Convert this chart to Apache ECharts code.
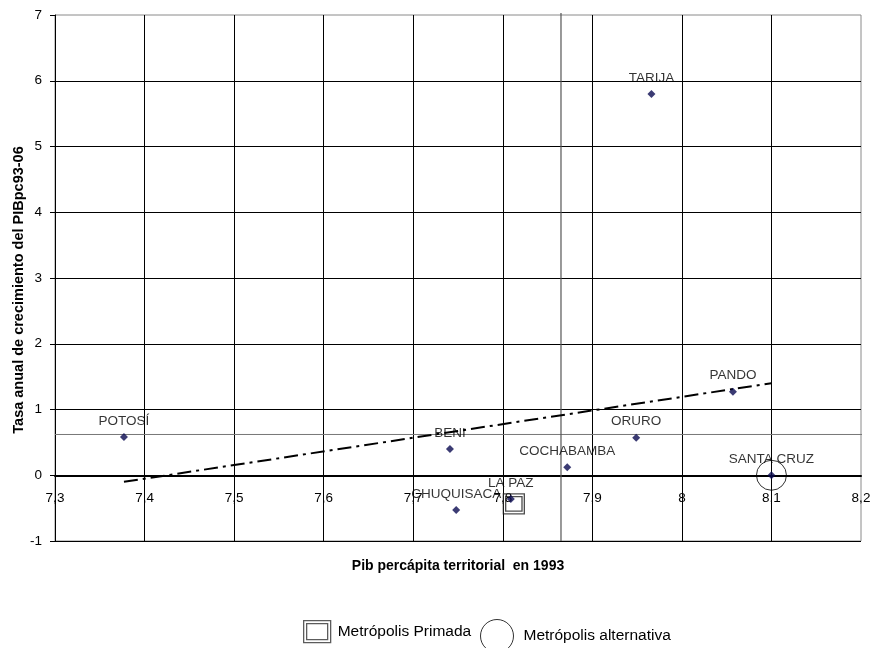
<!DOCTYPE html>
<html>
<head>
<meta charset="utf-8">
<script src="https://cdn.jsdelivr.net/npm/echarts@6/dist/echarts.min.js"></script>
<style>html,body{margin:0;padding:0;background:#fff;}#c{width:872px;height:648px;}</style>
</head>
<body>
<div id="c"></div>
<script>
// Data
const regions = ['POTOSÍ','BENI','CHUQUISACA','LA PAZ','COCHABAMBA','ORURO','PANDO','SANTA CRUZ','TARIJA'];
const pibpc93 = [7.377, 7.741, 7.748, 7.809, 7.872, 7.949, 8.057, 8.100, 7.966];
const growth  = [0.58, 0.40, -0.53, -0.36, 0.12, 0.57, 1.27, 0.00, 5.80];
const primada = ['LA PAZ'];
const alternativa = ['SANTA CRUZ'];
const trendX = [7.377, 8.100];
const trendY = [-0.10, 1.40];
const refX = 7.865;
const refY = 0.62;
const xMin = 7.3, xMax = 8.2, xStep = 0.1;
const yMin = -1, yMax = 7, yStep = 1;
const xTitle = 'Pib percápita territorial  en 1993';
const yTitle = 'Tasa anual de crecimiento del PIBpc93-06';

const pts = regions.map((r,i)=>({name:r, value:[pibpc93[i], growth[i]]}));
const pick = names => pts.filter(p=>names.includes(p.name)).map(p=>({name:p.name, value:p.value}));
const font = 'Liberation Sans, Arial, sans-serif';
const dblSquare = 'path://M0,0H27V22H0Z M3,3H24V19H3Z';

const gridTop = 15, gridBottom = 107, H = 648;
const plotH = H - gridTop - gridBottom;
const zeroOffset = -plotH * (0 - yMin) / (yMax - yMin); // put x axis at y = 0

const chart = echarts.init(document.getElementById('c'), null, {renderer:'canvas'});
chart.setOption({
  animation:false,
  backgroundColor:'#fff',
  textStyle:{fontFamily:font},
  grid:{left:55, right:11, top:gridTop, bottom:gridBottom, containLabel:false, outerBoundsMode:'none',
        show:true, borderColor:'#8a8a8a', borderWidth:1},
  xAxis:{
    type:'value', min:xMin, max:xMax, interval:xStep,
    name:xTitle, nameLocation:'middle', nameGap:84, nameMoveOverlap:false,
    nameTextStyle:{fontWeight:'bold', fontSize:14, color:'#000', fontFamily:font},
    axisLine:{onZero:false, lineStyle:{color:'#000', width:2}},
    offset:zeroOffset,
    axisTick:{show:false},
    axisLabel:{margin:16, fontSize:13.5, color:'#000', fontFamily:font,
      formatter:v=>String(Math.round(v*10)/10).replace('.',',')},
    splitLine:{show:true, showMinLine:false, showMaxLine:false, lineStyle:{color:'#000', width:1}}
  },
  yAxis:{
    type:'value', min:yMin, max:yMax, interval:yStep,
    name:yTitle, nameLocation:'middle', nameGap:29, nameRotate:90, nameMoveOverlap:false,
    nameTextStyle:{fontWeight:'bold', fontSize:14.5, color:'#000', fontFamily:font, padding:[0,24,0,0]},
    axisLine:{show:true, onZero:false, lineStyle:{color:'#000', width:1}},
    axisTick:{show:true, length:5, lineStyle:{color:'#000'}},
    axisLabel:{margin:13, fontSize:13.5, color:'#000', fontFamily:font},
    splitLine:{show:true, showMinLine:true, showMaxLine:false, lineStyle:{color:'#000', width:1}}
  },
  legend:[
    {data:[{name:'Metrópolis Primada', icon:dblSquare, itemStyle:{color:'transparent', borderColor:'#333', borderWidth:1.3}}],
     left:298, top:615, itemWidth:27, itemHeight:22, itemGap:8,
     textStyle:{fontSize:15.5, color:'#000', fontFamily:font, padding:[0,0,0,2]}},
    {data:[{name:'Metrópolis alternativa', icon:'circle', itemStyle:{color:'transparent', borderColor:'#000', borderWidth:1}}],
     left:475, top:614, itemWidth:33, itemHeight:33, itemGap:8,
     textStyle:{fontSize:15.5, color:'#000', fontFamily:font, padding:[0,0,0,5]}}
  ],
  series:[
    {type:'line', name:'refY', silent:true, symbol:'none', clip:false,
     data:[[xMin, refY],[xMax+0.007, refY]], lineStyle:{color:'#777', width:1}, z:1},
    {type:'line', name:'refX', silent:true, symbol:'none', clip:false,
     data:[[refX, yMin],[refX, yMax+0.03]], lineStyle:{color:'#555', width:1.2}, z:1},
    {type:'line', name:'trend', silent:true, symbol:'none',
     data:trendX.map((x,i)=>[x, trendY[i]]), lineStyle:{color:'#000', width:2, type:[14,5,3,5]}, z:2},
    {type:'scatter', name:'Metrópolis Primada', data:pick(primada), symbol:dblSquare, symbolSize:[21,20], symbolOffset:[3,5],
     itemStyle:{color:'transparent', borderColor:'#222', borderWidth:1.3}, z:3},
    {type:'scatter', name:'Metrópolis alternativa', data:pick(alternativa), symbol:'circle', symbolSize:30,
     itemStyle:{color:'transparent', borderColor:'#000', borderWidth:1}, z:3},
    {type:'scatter', name:'regiones', data:pts, symbol:'diamond', symbolSize:8,
     itemStyle:{color:'#0a0a50'}, z:5,
     label:{show:true, position:'top', distance:5, formatter:'{b}', fontSize:13.5, color:'#000', fontFamily:font}}
  ]
});
</script>
</body>
</html>
